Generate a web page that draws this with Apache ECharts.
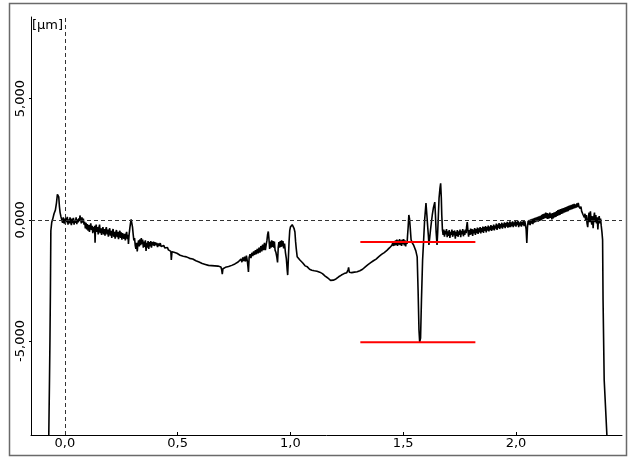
<!DOCTYPE html>
<html>
<head>
<meta charset="utf-8">
<script src="https://cdn.jsdelivr.net/npm/echarts@6/dist/echarts.min.js"></script>
<style>
html,body{margin:0;padding:0;background:#fff;}
#chart{width:628px;height:460px;}
</style>
</head>
<body>
<div id="chart"></div>
<script>
// Surface profile: lateral position [mm] vs height [µm]
var profile = [
[-0.072,-9.5],[-0.068,-6.6],[-0.066,-5.0],[-0.064,-3.0],[-0.062,-0.45],[-0.058,-0.1],[-0.054,0.02],[-0.048,0.25],[-0.042,0.4],[-0.037,0.7],[-0.033,1.05],[-0.030,1.12],[-0.027,0.95],[-0.024,0.55],[-0.021,0.3],[-0.017,0.12],[-0.013,0.05],
[-0.010,-0.12],[-0.007,0.1],[-0.004,-0.15],[-0.001,0.05],[0.002,-0.18],[0.005,0.08],[0.008,-0.1],[0.011,0.12],[0.014,-0.2],[0.017,0.02],[0.020,-0.15],[0.023,0.1],[0.026,-0.08],[0.029,-0.22],[0.032,0.05],[0.035,-0.14],[0.038,0.08],[0.041,-0.2],[0.044,0.0],[0.047,-0.12],[0.050,0.1],[0.053,-0.18],[0.056,0.02],[0.059,-0.1],[0.062,0.06],[0.065,-0.05],[0.067,0.18],[0.069,0.22],[0.071,0.0],[0.073,-0.15],[0.076,0.1],[0.079,-0.12],[0.082,0.05],[0.085,-0.2],[0.088,-0.08],
[0.091,-0.35],[0.094,-0.12],[0.097,-0.4],[0.100,-0.18],[0.103,-0.45],[0.106,-0.22],[0.109,-0.5],[0.112,-0.28],[0.115,-0.15],[0.118,-0.42],[0.121,-0.25],[0.124,-0.55],[0.127,-0.3],[0.130,-0.5],[0.132,-0.25],[0.134,-0.95],[0.136,-0.35],[0.139,-0.2],[0.142,-0.5],[0.145,-0.3],[0.148,-0.6],[0.151,-0.32],[0.154,-0.2],[0.157,-0.55],[0.160,-0.35],[0.163,-0.62],[0.166,-0.4],[0.169,-0.3],[0.172,-0.6],[0.175,-0.38],[0.178,-0.65],[0.181,-0.42],[0.184,-0.3],[0.187,-0.6],[0.190,-0.4],[0.193,-0.7],[0.196,-0.45],[0.199,-0.35],[0.202,-0.65],[0.205,-0.45],[0.208,-0.75],[0.211,-0.48],[0.214,-0.38],[0.217,-0.7],[0.220,-0.5],[0.223,-0.78],[0.226,-0.52],[0.229,-0.42],[0.232,-0.72],[0.235,-0.5],[0.238,-0.8],[0.241,-0.55],[0.244,-0.45],[0.247,-0.75],[0.250,-0.52],[0.253,-0.82],[0.256,-0.55],[0.259,-0.48],[0.262,-0.78],[0.265,-0.58],[0.268,-0.85],[0.271,-0.6],[0.274,-0.5],[0.277,-0.8],[0.280,-0.62],[0.282,-1.0],[0.285,-0.6],[0.288,-0.35],[0.291,-0.15],[0.294,0.02],[0.297,0.05],[0.300,-0.3],[0.303,-0.6],[0.306,-0.85],[0.309,-0.75],[0.312,-1.05],[0.315,-1.2],[0.318,-0.95],[0.321,-1.3],[0.324,-1.0],[0.327,-0.85],[0.330,-1.1],[0.333,-0.8],[0.336,-1.05],[0.339,-0.75],[0.342,-1.0],[0.345,-0.82],[0.348,-1.15],[0.351,-0.9],[0.354,-1.12],[0.357,-0.85],[0.360,-1.28],[0.363,-0.95],[0.366,-1.15],[0.369,-0.88],[0.372,-1.2],[0.375,-0.92],[0.378,-1.1],[0.381,-0.88],[0.384,-1.15],[0.387,-0.92],[0.390,-1.05],[0.393,-0.9],[0.396,-1.08],[0.399,-0.92],[0.403,-1.05],[0.407,-0.95],[0.411,-1.12],[0.415,-0.98],[0.419,-1.08],[0.423,-0.96],[0.427,-1.1],[0.431,-1.02],[0.435,-1.14],[0.439,-1.06],[0.443,-1.16],[0.447,-1.1],[0.451,-1.2],[0.455,-1.14],[0.459,-1.24],[0.463,-1.18],[0.467,-1.28],[0.470,-1.3],[0.472,-1.66],[0.475,-1.32],
[0.478,-1.26],[0.484,-1.34],[0.490,-1.29],[0.497,-1.38],[0.504,-1.4],[0.511,-1.46],[0.518,-1.44],[0.525,-1.5],[0.532,-1.49],[0.539,-1.53],[0.546,-1.54],[0.553,-1.59],[0.560,-1.58],[0.567,-1.62],[0.574,-1.64],[0.581,-1.69],[0.588,-1.68],[0.595,-1.74],[0.602,-1.78],[0.609,-1.8],[0.616,-1.85],[0.623,-1.84],[0.630,-1.9],[0.637,-1.88],[0.644,-1.92],[0.651,-1.89],[0.658,-1.94],[0.665,-1.9],[0.672,-1.93],[0.679,-1.91],[0.686,-1.96],[0.692,-1.95],[0.695,-2.05],[0.698,-2.24],[0.701,-2.02],[0.706,-1.98],[0.712,-1.96],[0.719,-1.97],[0.726,-1.93],[0.733,-1.94],[0.740,-1.88],[0.747,-1.87],[0.754,-1.82],[0.761,-1.8],[0.768,-1.74],[0.775,-1.72],[0.781,-1.62],[0.785,-1.75],[0.789,-1.55],[0.793,-1.7],[0.797,-1.52],[0.801,-1.72],[0.805,-1.48],[0.809,-1.7],[0.812,-1.95],[0.814,-2.15],[0.817,-1.55],[0.821,-1.42],[0.825,-1.58],[0.829,-1.36],[0.833,-1.5],[0.837,-1.3],[0.841,-1.45],[0.845,-1.25],[0.849,-1.42],[0.853,-1.2],[0.857,-1.38],[0.861,-1.15],[0.865,-1.35],[0.869,-1.08],[0.873,-1.3],[0.877,-1.02],[0.881,-1.25],[0.885,-0.95],[0.889,-1.25],[0.893,-1.0],[0.896,-0.85],[0.899,-0.6],[0.902,-0.48],[0.905,-0.8],[0.908,-1.2],[0.911,-0.9],[0.914,-1.15],[0.917,-0.85],[0.920,-1.12],[0.923,-0.88],[0.926,-1.15],[0.929,-0.9],[0.932,-1.25],[0.936,-1.35],[0.940,-1.55],[0.943,-1.76],[0.946,-1.15],[0.949,-0.92],[0.952,-1.15],[0.955,-0.88],[0.958,-1.12],[0.961,-0.85],[0.964,-1.1],[0.967,-0.88],[0.970,-1.18],[0.974,-0.98],[0.978,-1.35],[0.982,-1.6],[0.986,-2.1],[0.988,-2.28],[0.991,-1.6],[0.994,-0.9],[0.997,-0.45],[1.000,-0.3],[1.004,-0.22],[1.008,-0.2],[1.012,-0.27],[1.016,-0.35],[1.020,-0.5],[1.023,-0.9],[1.026,-1.2],
[1.030,-1.52],[1.034,-1.6],[1.038,-1.55],[1.042,-1.66],[1.046,-1.6],[1.050,-1.74],[1.055,-1.78],[1.060,-1.86],[1.065,-1.9],[1.070,-1.97],[1.075,-1.94],[1.080,-2.0],[1.085,-2.04],[1.090,-2.02],[1.095,-2.08],[1.100,-2.04],[1.106,-2.1],[1.112,-2.06],[1.118,-2.12],[1.124,-2.1],[1.130,-2.16],[1.136,-2.14],[1.142,-2.22],[1.148,-2.25],[1.154,-2.32],[1.160,-2.34],[1.166,-2.4],[1.172,-2.44],[1.178,-2.5],[1.184,-2.54],[1.190,-2.49],[1.196,-2.5],[1.202,-2.44],[1.208,-2.42],[1.214,-2.35],[1.220,-2.33],[1.226,-2.28],[1.232,-2.3],[1.238,-2.22],[1.244,-2.24],[1.250,-2.18],[1.254,-2.26],[1.256,-2.05],[1.258,-1.96],[1.261,-2.16],[1.266,-2.24],[1.272,-2.18],[1.278,-2.23],[1.284,-2.16],[1.290,-2.2],[1.296,-2.14],[1.302,-2.18],[1.308,-2.1],[1.314,-2.12],[1.320,-2.04],[1.326,-2.02],[1.332,-1.94],[1.338,-1.93],[1.344,-1.85],[1.350,-1.84],[1.356,-1.77],[1.362,-1.76],[1.368,-1.69],[1.374,-1.7],[1.380,-1.62],[1.386,-1.6],[1.392,-1.52],[1.398,-1.5],[1.404,-1.43],[1.410,-1.42],[1.416,-1.35],[1.422,-1.34],[1.428,-1.26],[1.434,-1.25],[1.440,-1.15],[1.445,-1.12],[1.450,-1.05],[1.454,-0.95],[1.457,-1.08],[1.460,-0.88],[1.463,-1.06],[1.466,-0.85],[1.469,-1.05],[1.472,-0.82],[1.475,-1.08],[1.478,-0.85],[1.481,-1.02],[1.484,-0.8],[1.487,-1.05],[1.490,-0.85],[1.493,-1.08],[1.496,-0.82],[1.499,-1.0],[1.502,-0.8],[1.505,-1.06],[1.508,-0.85],[1.511,-1.1],[1.514,-0.88],[1.517,-1.0],[1.519,-0.7],[1.522,-0.3],[1.525,0.2],[1.528,0.05],[1.531,-0.3],[1.535,-0.82],[1.540,-0.95],[1.546,-1.04],[1.551,-1.12],[1.556,-1.28],[1.562,-1.53],[1.566,-2.9],[1.570,-4.55],[1.573,-5.04],[1.577,-4.88],[1.581,-3.3],[1.586,-1.66],[1.590,-0.96],[1.595,-0.01],[1.601,0.69],[1.605,0.2],[1.608,-0.21],[1.612,-0.7],[1.614,-1.04],[1.618,-0.7],[1.621,-0.42],[1.625,-0.1],[1.629,0.2],[1.634,0.5],[1.640,0.73],[1.643,0.2],[1.646,-0.5],[1.650,-1.04],[1.653,-0.5],[1.656,0.2],[1.659,0.9],[1.663,1.3],[1.666,1.51],[1.669,0.9],[1.671,0.2],
[1.674,-0.42],[1.677,-0.62],[1.680,-0.4],[1.683,-0.7],[1.686,-0.45],[1.689,-0.6],[1.692,-0.38],[1.695,-0.72],[1.698,-0.48],[1.701,-0.66],[1.704,-0.42],[1.707,-0.75],[1.710,-0.5],[1.713,-0.62],[1.716,-0.4],[1.719,-0.7],[1.722,-0.46],[1.725,-0.64],[1.728,-0.44],[1.731,-0.78],[1.734,-0.5],[1.737,-0.66],[1.740,-0.42],[1.743,-0.7],[1.746,-0.48],[1.749,-0.62],[1.752,-0.4],[1.755,-0.72],[1.758,-0.45],[1.761,-0.6],[1.764,-0.38],[1.767,-0.68],[1.770,-0.44],[1.773,-0.62],[1.776,-0.4],[1.779,-0.55],[1.781,-0.3],[1.784,-0.09],[1.787,-0.45],[1.790,-0.7],[1.793,-0.42],[1.796,-0.62],[1.799,-0.36],[1.802,-0.6],[1.805,-0.38],[1.808,-0.66],[1.811,-0.4],[1.814,-0.56],[1.817,-0.34],[1.820,-0.62],[1.823,-0.38],[1.826,-0.55],[1.829,-0.32],[1.832,-0.58],[1.835,-0.35],[1.838,-0.52],[1.841,-0.3],[1.844,-0.56],[1.847,-0.34],[1.850,-0.5],[1.853,-0.28],[1.856,-0.54],[1.859,-0.3],[1.862,-0.46],[1.865,-0.26],[1.868,-0.52],[1.871,-0.3],[1.874,-0.45],[1.877,-0.24],[1.880,-0.48],[1.883,-0.28],[1.886,-0.42],[1.889,-0.22],[1.892,-0.46],[1.895,-0.26],[1.898,-0.4],[1.901,-0.2],[1.904,-0.44],[1.907,-0.24],[1.910,-0.36],[1.913,-0.16],[1.916,-0.42],[1.919,-0.2],[1.922,-0.34],[1.925,-0.14],[1.928,-0.38],[1.931,-0.18],[1.934,-0.32],[1.937,-0.12],[1.940,-0.36],[1.943,-0.16],[1.946,-0.3],[1.949,-0.1],[1.952,-0.34],[1.955,-0.14],[1.958,-0.28],[1.961,-0.08],[1.964,-0.32],[1.967,-0.12],[1.970,-0.3],[1.973,-0.06],[1.976,-0.3],[1.979,-0.1],[1.982,-0.26],[1.985,-0.06],[1.988,-0.3],[1.991,-0.1],[1.994,-0.24],[1.997,-0.04],[2.000,-0.28],[2.003,-0.08],[2.006,-0.22],[2.009,-0.04],[2.012,-0.3],[2.015,-0.1],[2.018,-0.24],[2.021,-0.06],[2.024,-0.28],[2.027,-0.08],[2.030,-0.22],[2.033,-0.04],[2.036,-0.26],[2.039,-0.06],[2.042,-0.2],[2.045,-0.4],[2.048,-0.96],[2.051,-0.3],[2.054,-0.04],[2.057,-0.2],[2.060,0.0],[2.063,-0.22],[2.066,0.02],[2.069,-0.16],[2.072,0.04],[2.075,-0.18],[2.078,0.06],[2.081,-0.12],[2.084,0.08],[2.087,-0.1],[2.090,0.1],[2.093,-0.06],[2.096,0.12],[2.099,-0.08],[2.102,0.14],[2.105,-0.04],[2.108,0.16],[2.111,-0.02],[2.114,0.2],[2.117,0.02],[2.120,0.24],[2.123,0.04],[2.126,0.26],[2.129,0.08],[2.132,0.3],[2.135,0.06],[2.138,0.28],[2.141,0.04],[2.144,0.26],[2.147,0.06],[2.150,0.3],[2.153,0.08],[2.156,0.26],[2.159,0.02],[2.162,0.28],[2.165,0.06],[2.168,0.3],[2.171,0.1],[2.174,0.32],[2.177,0.12],[2.180,0.36],[2.183,0.16],[2.186,0.4],[2.189,0.18],[2.192,0.42],[2.195,0.2],[2.198,0.44],[2.201,0.24],[2.204,0.46],[2.207,0.26],[2.210,0.48],[2.213,0.3],[2.216,0.5],[2.219,0.32],[2.222,0.52],[2.225,0.34],[2.228,0.56],[2.231,0.36],[2.234,0.58],[2.237,0.4],[2.240,0.6],[2.243,0.42],[2.246,0.62],[2.249,0.44],[2.252,0.64],[2.255,0.46],[2.258,0.66],[2.261,0.48],[2.264,0.64],[2.267,0.5],[2.270,0.68],[2.273,0.52],[2.276,0.7],[2.279,0.55],[2.282,0.62],[2.285,0.46],[2.288,0.55],[2.291,0.36],[2.294,0.44],[2.297,0.22],[2.300,0.3],[2.303,0.1],[2.306,0.25],[2.309,-0.05],[2.312,0.2],[2.315,-0.15],[2.318,-0.3],[2.321,0.1],[2.324,0.3],[2.327,-0.1],[2.330,0.35],[2.333,0.0],[2.336,-0.2],[2.339,0.15],[2.342,-0.35],[2.345,0.1],[2.348,0.3],[2.351,-0.1],[2.354,0.2],[2.357,-0.15],[2.360,0.1],[2.363,-0.4],[2.366,0.05],[2.369,0.15],[2.372,-0.15],[2.375,0.05],[2.378,-0.25],[2.381,-0.5],[2.384,-0.83],[2.386,-3.3],[2.391,-6.6],[2.403,-8.88],[2.405,-9.5]
];

// Step-height measurement levels [µm] and their horizontal extent [mm]
var levelHeights = [-0.92, -5.05];
var levelSpan = [1.31, 1.82];

// Axis ranges and labelled ticks
var xRange = [-0.15, 2.47];
var yRange = [-8.88, 8.37];
var xTicks = [0, 0.5, 1.0, 1.5, 2.0];
var yTicks = [-5, 0, 5];
var yUnit = '[µm]';

var fontFamily = '"DejaVu Sans", Verdana, sans-serif';

function decimalComma(v, digits) {
  return v.toFixed(digits).replace('.', ',');
}

var levelSeries = levelHeights.map(function (h) {
  return {
    type: 'line',
    data: [[levelSpan[0], h], [levelSpan[1], h]],
    showSymbol: false,
    symbol: 'none',
    lineStyle: { color: '#ff0000', width: 2 },
    silent: true,
    z: 4
  };
});

var chart = echarts.init(document.getElementById('chart'), null, { renderer: 'canvas' });
chart.setOption({
  animation: false,
  backgroundColor: '#ffffff',
  grid: { left: 31, top: 17, right: 6, bottom: 25, containLabel: false },
  xAxis: {
    type: 'value',
    min: xRange[0],
    max: xRange[1],
    axisLine: { show: true, onZero: false, lineStyle: { color: '#000', width: 1 } },
    axisTick: { show: true, inside: true, length: 3, customValues: xTicks, lineStyle: { color: '#000' } },
    axisLabel: {
      customValues: xTicks,
      formatter: function (v) { return decimalComma(v, 1); },
      color: '#000', fontFamily: fontFamily, fontSize: 13, margin: 2
    },
    splitLine: { show: false }
  },
  yAxis: {
    type: 'value',
    min: yRange[0],
    max: yRange[1],
    axisLine: { show: true, onZero: false, lineStyle: { color: '#000', width: 1 } },
    axisTick: { show: true, inside: false, length: 2, customValues: yTicks, lineStyle: { color: '#000' } },
    axisLabel: {
      customValues: yTicks,
      rotate: 90,
      formatter: function (v) { return decimalComma(v, 3); },
      color: '#000', fontFamily: fontFamily, fontSize: 13, margin: 4
    },
    splitLine: { show: false }
  },
  graphic: [
    {
      type: 'rect',
      shape: { x: 9.5, y: 3.5, width: 617, height: 452 },
      style: { fill: 'none', stroke: '#6a6a6a', lineWidth: 1.5 },
      silent: true, z: 0
    },
    {
      type: 'text',
      left: 32, top: 19,
      style: { text: yUnit, fill: '#000', font: '13px ' + fontFamily },
      z: 10
    }
  ],
  series: [
    {
      type: 'line',
      data: profile,
      showSymbol: false,
      symbol: 'none',
      clip: true,
      lineStyle: { color: '#000', width: 1.6 },
      silent: true,
      z: 3,
      markLine: {
        silent: true,
        symbol: 'none',
        label: { show: false },
        lineStyle: { color: '#333', type: [4, 3], width: 1 },
        data: [{ xAxis: 0 }, { yAxis: 0 }]
      }
    }
  ].concat(levelSeries)
});
</script>
</body>
</html>
